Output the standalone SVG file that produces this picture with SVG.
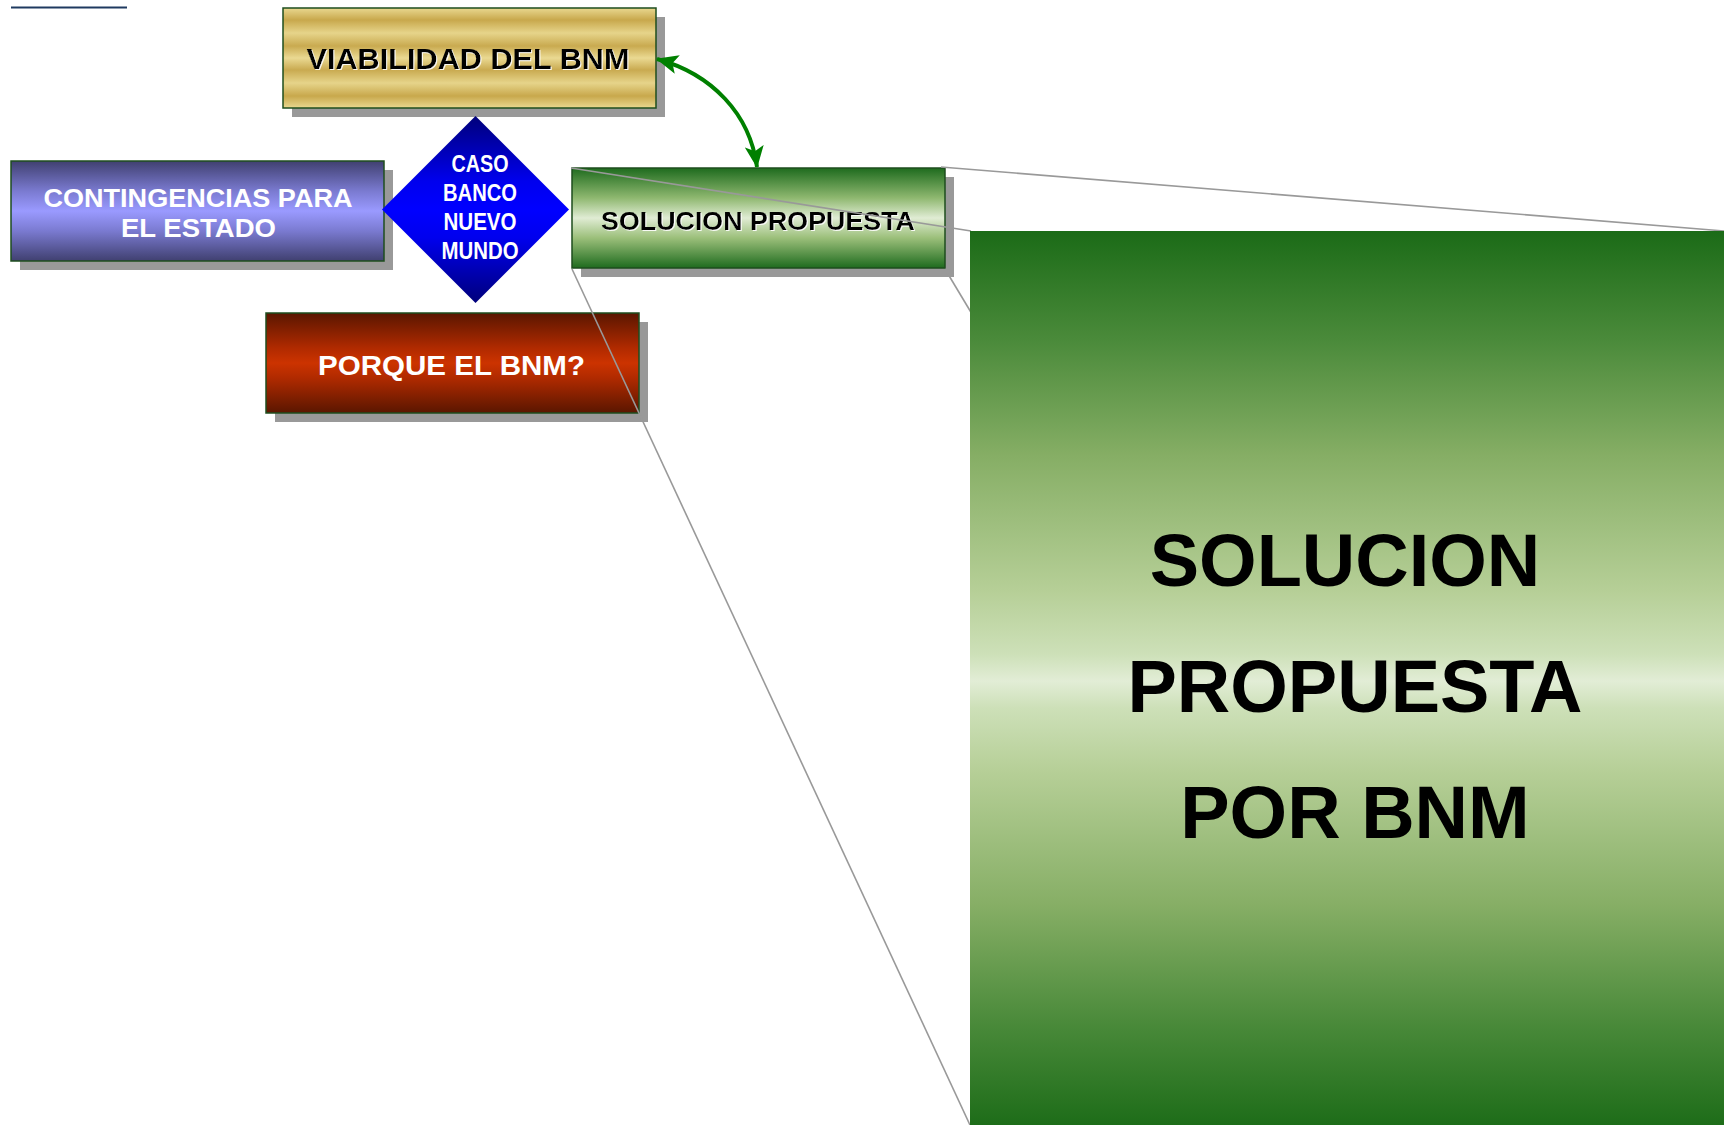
<svg xmlns="http://www.w3.org/2000/svg" width="1724" height="1125" viewBox="0 0 1724 1125">
<style>
.box{stroke:#1e4d1e;stroke-width:1.5}
.shadow{fill:#999999}
.lbl{font-family:"Liberation Sans",Arial,sans-serif;font-weight:bold;text-anchor:middle}
.wt{fill:#ffffff}
.bk{fill:#000000}
.zoom{stroke:#999999;stroke-width:1.6;fill:none}
</style>
<defs>
<filter id="wglow" x="-5%" y="-20%" width="110%" height="140%">
<feOffset in="SourceAlpha" dx="1.2" dy="1.2" result="off"/>
<feFlood flood-color="#ffffff" flood-opacity="0.9"/>
<feComposite in2="off" operator="in" result="sh"/>
<feMerge><feMergeNode in="sh"/><feMergeNode in="SourceGraphic"/></feMerge>
</filter>
<linearGradient id="gGold" x1="0" y1="0" x2="0" y2="1">
<stop offset="0" stop-color="#e9d890"/>
<stop offset="0.12" stop-color="#c8a84c"/>
<stop offset="0.25" stop-color="#e6d48a"/>
<stop offset="0.38" stop-color="#c9aa50"/>
<stop offset="0.5" stop-color="#ead992"/>
<stop offset="0.62" stop-color="#c9aa50"/>
<stop offset="0.75" stop-color="#e6d48a"/>
<stop offset="0.88" stop-color="#c8a84c"/>
<stop offset="1" stop-color="#e9d890"/>
</linearGradient>
<linearGradient id="gBlue" x1="0" y1="0" x2="0" y2="1">
<stop offset="0" stop-color="#404070"/>
<stop offset="0.3" stop-color="#7a7ad0"/>
<stop offset="0.5" stop-color="#9a9aff"/>
<stop offset="0.7" stop-color="#7a7ad0"/>
<stop offset="1" stop-color="#404070"/>
</linearGradient>
<linearGradient id="gRed" x1="0" y1="0" x2="0" y2="1">
<stop offset="0" stop-color="#5a1600"/>
<stop offset="0.35" stop-color="#b02a00"/>
<stop offset="0.5" stop-color="#cc3300"/>
<stop offset="0.65" stop-color="#b02a00"/>
<stop offset="1" stop-color="#5a1600"/>
</linearGradient>
<linearGradient id="gGreen" x1="0" y1="0" x2="0" y2="1">
<stop offset="0" stop-color="#1e6b1e"/>
<stop offset="0.3" stop-color="#8fb870"/>
<stop offset="0.5" stop-color="#e0ecd4"/>
<stop offset="0.7" stop-color="#9bbf7a"/>
<stop offset="1" stop-color="#1e6b1e"/>
</linearGradient>
<linearGradient id="gBig" x1="0" y1="0" x2="0" y2="1">
<stop offset="0" stop-color="#1b6b17"/>
<stop offset="0.12" stop-color="#4a8a3a"/>
<stop offset="0.25" stop-color="#86ae65"/>
<stop offset="0.4" stop-color="#b6cf97"/>
<stop offset="0.47" stop-color="#cde0b8"/>
<stop offset="0.5" stop-color="#e2edd6"/>
<stop offset="0.53" stop-color="#cde0b8"/>
<stop offset="0.6" stop-color="#b6cf97"/>
<stop offset="0.75" stop-color="#86ae65"/>
<stop offset="0.88" stop-color="#4a8a3a"/>
<stop offset="1" stop-color="#1b6b17"/>
</linearGradient>
<linearGradient id="gDiamond" x1="0" y1="0" x2="0" y2="1">
<stop offset="0" stop-color="#00007a"/>
<stop offset="0.35" stop-color="#0000ee"/>
<stop offset="0.5" stop-color="#0000ff"/>
<stop offset="0.65" stop-color="#0000ee"/>
<stop offset="1" stop-color="#00007a"/>
</linearGradient>
<marker id="arr" viewBox="0 0 22 19" refX="21" refY="9.5" markerWidth="22" markerHeight="19" markerUnits="userSpaceOnUse" orient="auto-start-reverse">
<path d="M0,0 L22,9.5 L0,19 L5,9.5 Z" fill="#008000"/>
</marker>
</defs>

<rect width="1724" height="1125" fill="#ffffff"/>
<line x1="11" y1="7.5" x2="127" y2="7.5" stroke="#1f3a60" stroke-width="2"/>

<g id="node-viabilidad">
<rect class="shadow" x="292" y="17" width="373" height="100"/>
<rect class="box" x="283" y="8" width="373" height="100" fill="url(#gGold)"/>
<text class="lbl bk" x="468" y="69" font-size="29" textLength="323" lengthAdjust="spacingAndGlyphs" filter="url(#wglow)">VIABILIDAD DEL BNM</text>
</g>

<g id="node-contingencias">
<rect class="shadow" x="20" y="170" width="373" height="100"/>
<rect class="box" x="11" y="161" width="373" height="100" fill="url(#gBlue)"/>
<text class="lbl wt" x="198" y="207" font-size="26" textLength="309" lengthAdjust="spacingAndGlyphs">CONTINGENCIAS PARA</text>
<text class="lbl wt" x="198.5" y="237" font-size="26" textLength="155" lengthAdjust="spacingAndGlyphs">EL ESTADO</text>
</g>

<g id="node-caso">
<polygon points="475.5,116 569,209.5 475.5,303 382,209.5" fill="url(#gDiamond)"/>
<text class="lbl wt" x="480" y="172" font-size="24.5" textLength="57" lengthAdjust="spacingAndGlyphs">CASO</text>
<text class="lbl wt" x="480" y="201" font-size="24.5" textLength="74" lengthAdjust="spacingAndGlyphs">BANCO</text>
<text class="lbl wt" x="480" y="230" font-size="24.5" textLength="73" lengthAdjust="spacingAndGlyphs">NUEVO</text>
<text class="lbl wt" x="480" y="259" font-size="24.5" textLength="77" lengthAdjust="spacingAndGlyphs">MUNDO</text>
</g>

<g id="node-porque">
<rect class="shadow" x="275" y="322" width="373" height="100"/>
<rect class="box" x="266" y="313" width="373" height="100" fill="url(#gRed)"/>
<text class="lbl wt" x="451.5" y="375" font-size="28" textLength="267" lengthAdjust="spacingAndGlyphs">PORQUE EL BNM?</text>
</g>

<g id="node-solucion">
<rect class="shadow" x="581" y="177" width="373" height="100"/>
<rect class="box" x="572" y="168" width="373" height="100" fill="url(#gGreen)"/>
<text class="lbl bk" x="758" y="230" font-size="26" textLength="314" lengthAdjust="spacingAndGlyphs" filter="url(#wglow)">SOLUCION PROPUESTA</text>
</g>

<g id="connectors">
<path d="M657,59 C712,74 750,114 757,167" fill="none" stroke="#008000" stroke-width="4" marker-start="url(#arr)" marker-end="url(#arr)"/>
<line class="zoom" x1="571" y1="168" x2="971" y2="231"/>
<line class="zoom" x1="941" y1="167" x2="1724" y2="231"/>
<line class="zoom" x1="572" y1="269" x2="970" y2="1125"/>
<line class="zoom" x1="945" y1="269" x2="975" y2="319"/>
</g>

<g id="node-solucion-zoom">
<rect x="970" y="231" width="760" height="900" fill="url(#gBig)"/>
<text class="lbl bk" x="1345" y="586" font-size="74">SOLUCION</text>
<text class="lbl bk" x="1355" y="712" font-size="74">PROPUESTA</text>
<text class="lbl bk" x="1355" y="838" font-size="74">POR BNM</text>
</g>
</svg>
